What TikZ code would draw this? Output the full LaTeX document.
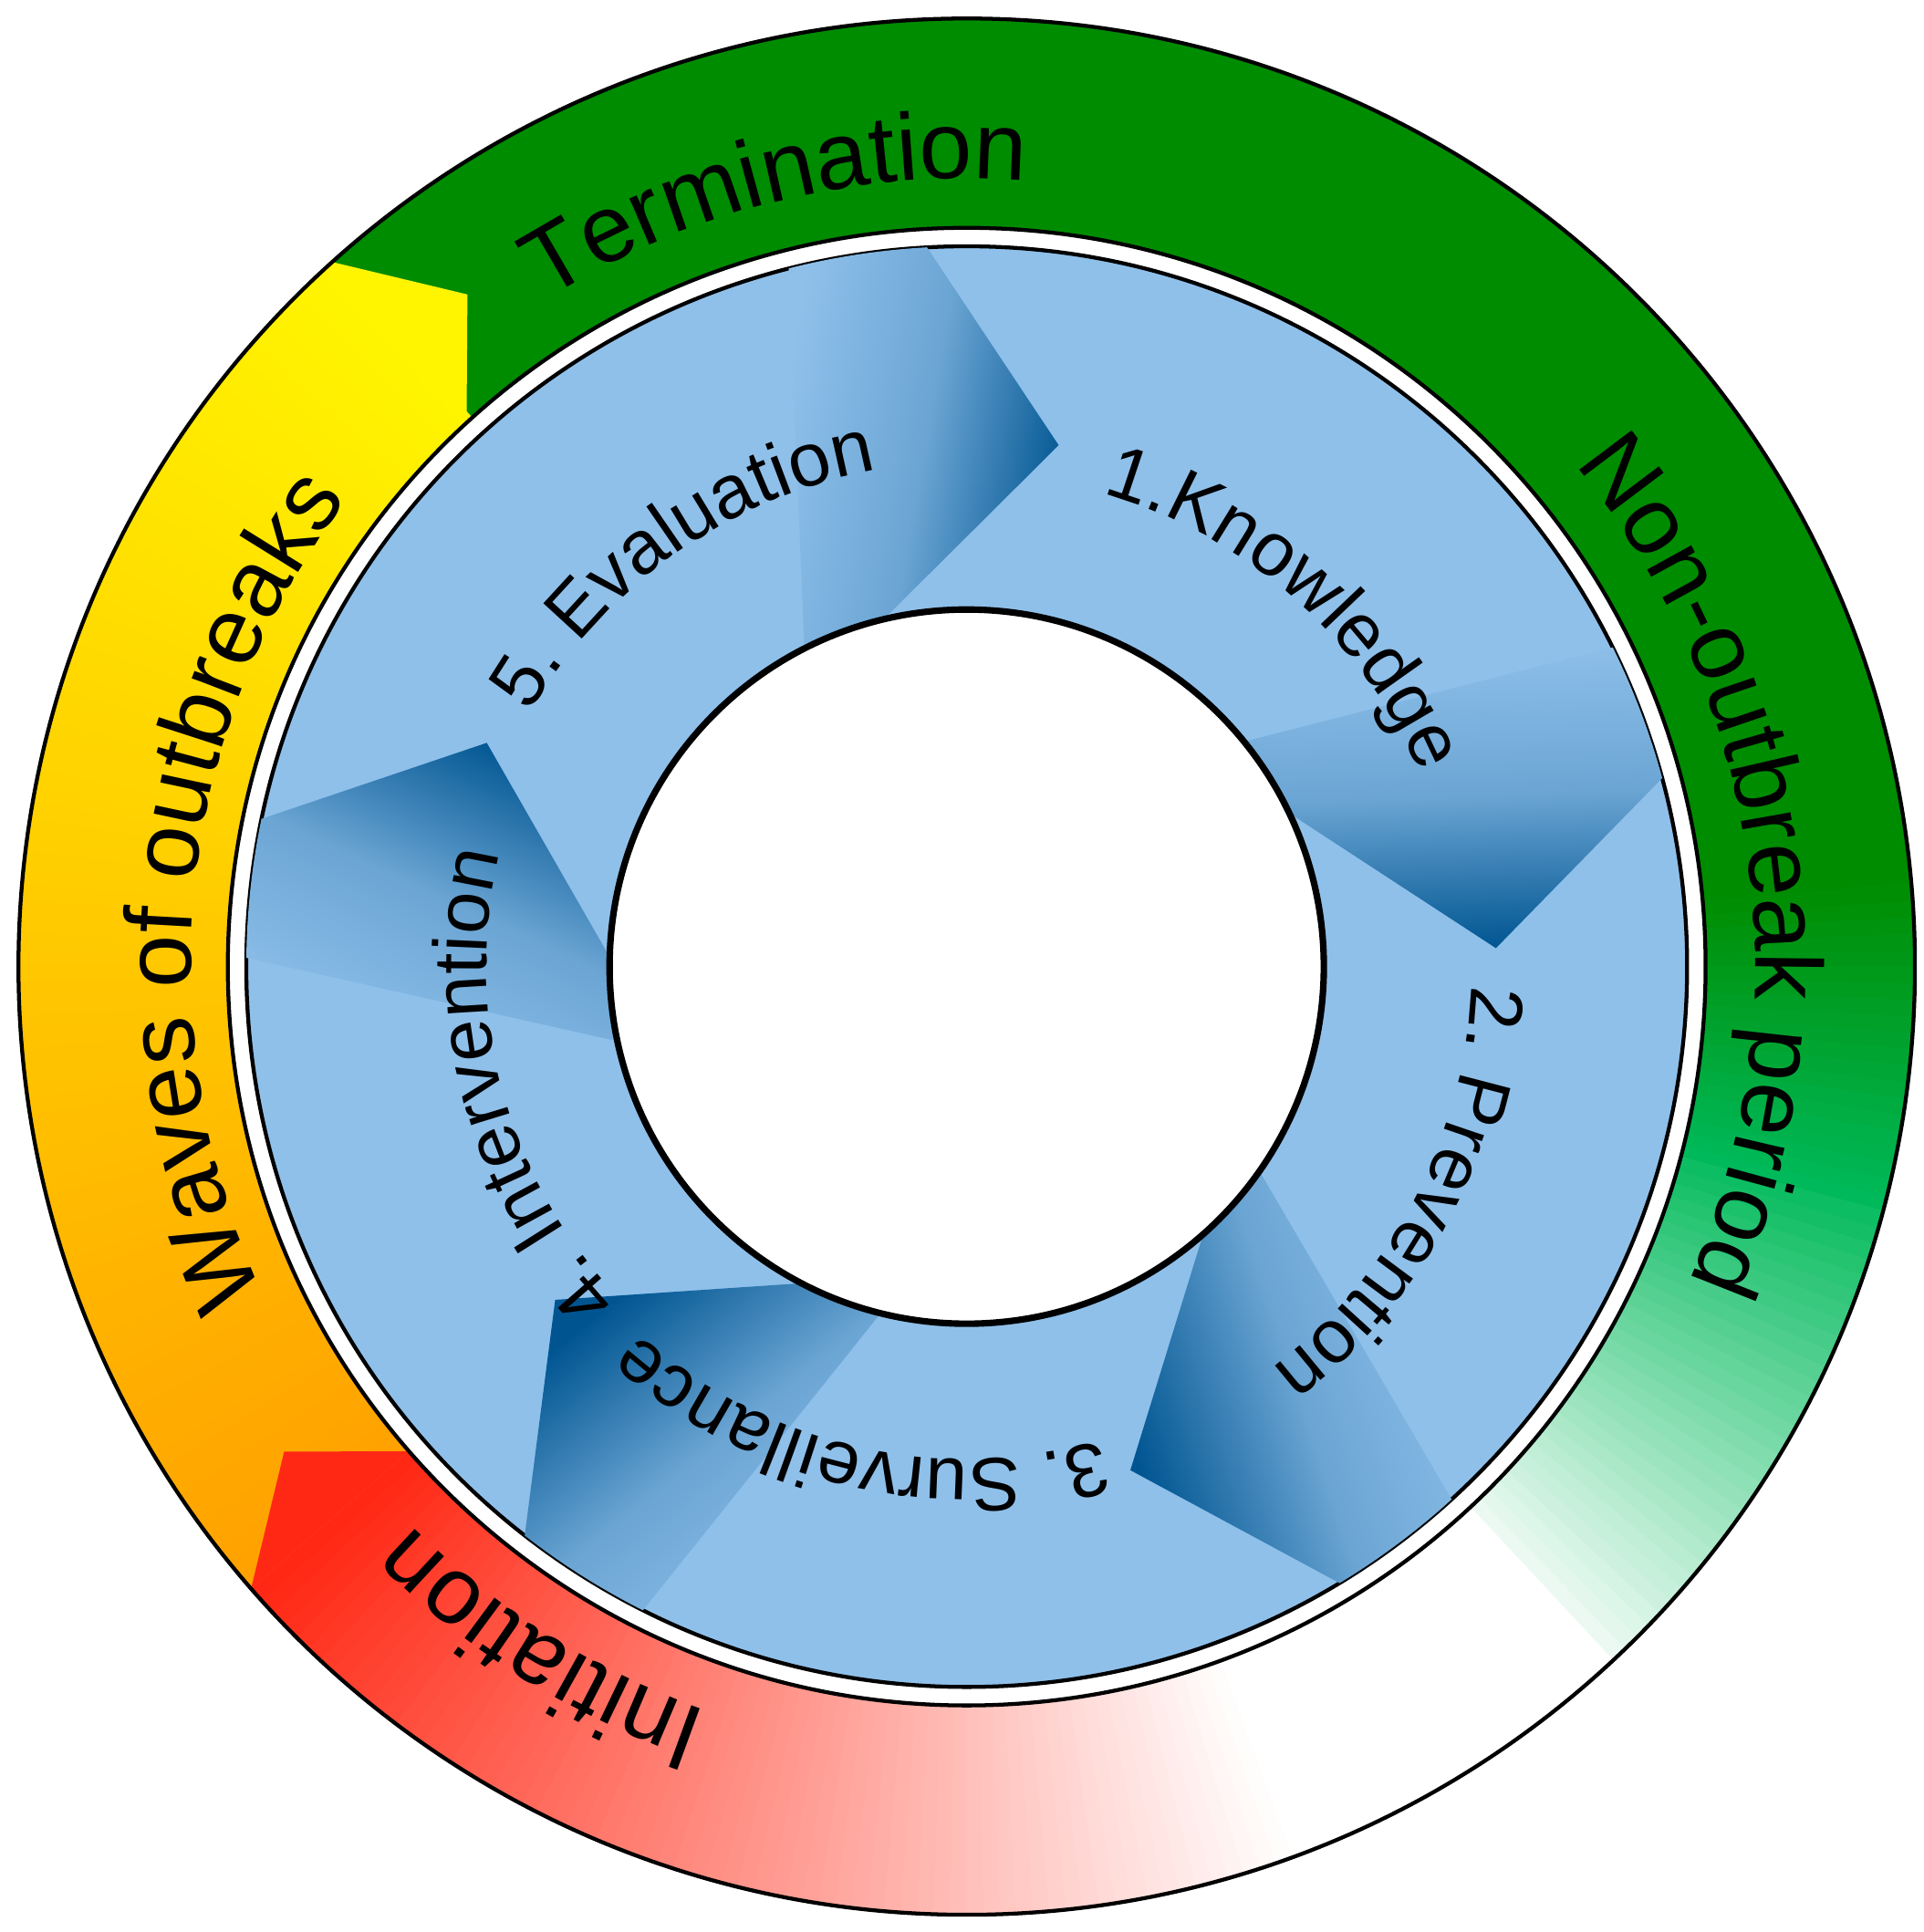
\documentclass[tikz,border=0pt]{standalone}
\usepackage{fontspec}
\setmainfont{Liberation Sans}
\usetikzlibrary{decorations.text}

\definecolor{ngreen}{RGB}{0,140,0}
\definecolor{bgreen}{RGB}{0,185,90}
\definecolor{nred}{RGB}{255,40,20}
\definecolor{nyellow}{RGB}{255,245,0}
\definecolor{norange}{RGB}{255,160,0}
\definecolor{lblue}{RGB}{143,192,234}
\definecolor{dblue}{RGB}{0,85,145}

\newcommand\outerfont{\fontsize{22}{26}\selectfont}
\newcommand\innerfont{\fontsize{17.5}{21}\selectfont}
% one thin slice of the outer ring
\newcommand\ringpiece[2]{\fill[#2] (#1:7.7) arc[start angle=#1,delta angle=1.1,radius=7.7]
  -- ({#1+1.1}:6) arc[start angle={#1+1.1},delta angle=-1.1,radius=6] -- cycle;}

\begin{document}
\begin{tikzpicture}[
  outerlabel/.style={decorate,decoration={text along path,text align=center,text={|\outerfont|#1}}},
  innerlabel/.style={decorate,decoration={text along path,text align=center,text={|\innerfont|#1}}},
  chevron/.style={top color=dblue,bottom color=lblue,middle color=lblue!75!dblue,shading angle=#1}]
\useasboundingbox (-7.85,-7.84) rectangle (7.77,7.85);
\coordinate (centre) at (0,0);

% outer ring: phases of the outbreak
\foreach \a in {5,...,131} {\ringpiece{\a}{ngreen}}
\foreach \a in {-15,...,4} {\pgfmathsetmacro\p{(\a+15)*5}\ringpiece{\a}{ngreen!\p!bgreen}}
\foreach \a in {-47,...,-16} {\pgfmathsetmacro\p{(\a+47)*2.8+8}\ringpiece{\a}{bgreen!\p!white}}
\foreach \a in {132,...,220} {\pgfmathsetmacro\p{(\a-132)*100/89}\ringpiece{\a}{norange!\p!nyellow}}
\foreach \a in {221,...,289} {\pgfmathsetmacro\p{100-(\a-221)*100/69}\ringpiece{\a}{nred!\p!white}}
\fill[nyellow] (132:7.7) -- (126.6:6.8) -- (132.6:6) -- (133:6) -- (133:7.7) -- cycle;
\fill[nred] (221:7.7) -- (215.4:6.8) -- (221:6) -- cycle;
\draw[line width=0.9pt] (centre) circle (7.7);

\path[outerlabel=Termination] (154:6.4) arc[start angle=154,end angle=54,radius=6.4];
\path[outerlabel=Non-outbreak period] (68:6.4) arc[start angle=68,end angle=-52,radius=6.4];
\path[outerlabel=Initiation] (288:6.4) arc[start angle=288,end angle=188,radius=6.4];
\path[outerlabel=Waves of outbreaks] (234:6.3) arc[start angle=234,end angle=114,radius=6.3];

% inner cycle
\draw[fill=white,line width=0.9pt] (centre) circle (6);
\draw[fill=lblue,line width=0.9pt] (centre) circle (5.85);
\begin{scope}
  \clip (centre) circle (5.85);
  \foreach \t in {80,2,-72,-141,155}
    \shade[chevron={\t-180}] ({\t+14}:6.0) -- (\t:4.3) -- ({\t+27}:2.8) -- ({\t+38}:2.8) -- ({\t+24}:6.0) -- cycle;
\end{scope}
\draw[fill=white,line width=1.5pt] (centre) circle (2.9);

\path[innerlabel=1.Knowledge] (98:4.0) arc[start angle=98,end angle=-1,radius=4.0];
\path[innerlabel=2. Prevention] (22:4.1) arc[start angle=22,end angle=-77,radius=4.1];
\path[innerlabel=3. Surveillance] (-53:4.0) arc[start angle=-53,end angle=-153,radius=4.0];
\path[innerlabel=4. Intervention] (245:3.9) arc[start angle=245,end angle=145,radius=3.9];
\path[innerlabel=5. Evaluation] (175:4.1) arc[start angle=175,end angle=75,radius=4.1];
\end{tikzpicture}
\end{document}
